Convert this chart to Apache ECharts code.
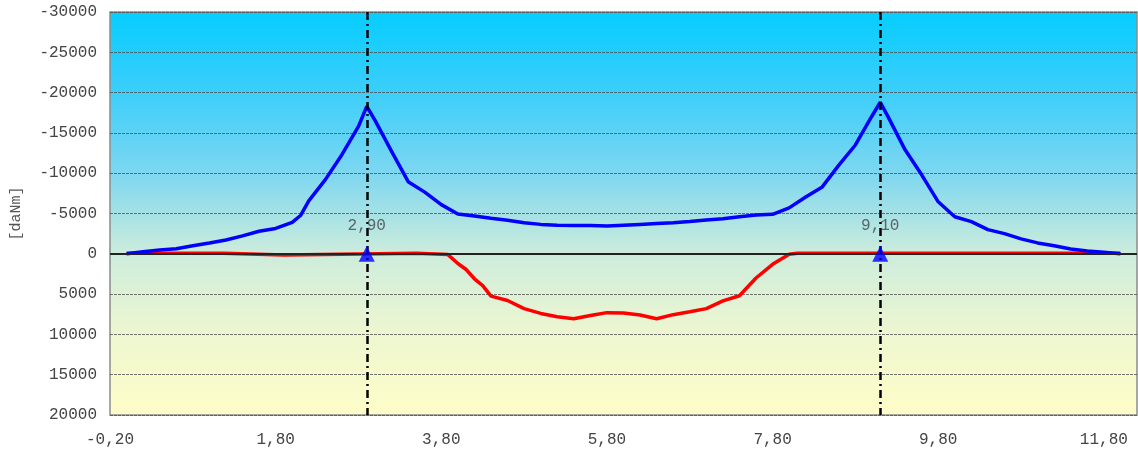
<!DOCTYPE html>
<html>
<head>
<meta charset="utf-8">
<script src="https://cdn.jsdelivr.net/npm/echarts@6/dist/echarts.min.js"></script>
<style>
  html, body { margin: 0; padding: 0; background: #ffffff; }
  #chart { width: 1138px; height: 452px; }
</style>
</head>
<body>
<div id="chart"></div>
<script>
// Hogging moment envelope (negative, drawn upwards) [daNm]
const hogX = [0, 0.2, 0.4, 0.6, 0.8, 1.0, 1.2, 1.4, 1.6, 1.8, 2.0, 2.1, 2.2, 2.4, 2.6, 2.8, 2.9,
  3.0, 3.2, 3.4, 3.6, 3.8, 4.0, 4.2, 4.4, 4.6, 4.8, 5.0, 5.2, 5.4, 5.6, 5.8, 6.0, 6.2, 6.4,
  6.6, 6.8, 7.0, 7.2, 7.4, 7.6, 7.8, 8.0, 8.2, 8.4, 8.6, 8.8, 9.0, 9.1, 9.2, 9.4, 9.6, 9.8,
  10.0, 10.2, 10.4, 10.6, 10.8, 11.0, 11.2, 11.4, 11.6, 11.8, 12.0];
const hogM = [0, -250, -480, -630, -1000, -1350, -1720, -2220, -2800, -3150, -3900, -4750, -6560,
  -9200, -12300, -15800, -18300, -16550, -12700, -8950, -7650, -6100, -4950, -4700, -4400,
  -4150, -3850, -3650, -3550, -3500, -3500, -3450, -3550, -3650, -3750, -3850, -4000, -4200,
  -4350, -4600, -4800, -4900, -5700, -7050, -8300, -11000, -13500, -17100, -18800, -16900,
  -12900, -9800, -6450, -4600, -4000, -3000, -2500, -1850, -1350, -1000, -600, -350, -200, 0];

// Sagging moment envelope (positive, drawn downwards) [daNm]
const sagX = [0, 1.17, 1.18, 1.90, 1.92, 3.50, 3.52, 3.88, 4.0, 4.1, 4.2, 4.3, 4.4, 4.6, 4.8,
  5.0, 5.2, 5.4, 5.6, 5.8, 6.0, 6.2, 6.4, 6.6, 6.8, 7.0, 7.2, 7.4, 7.6, 7.8, 8.0, 8.1, 12.0];
const sagM = [-80, -80, 150, 150, -80, -80, 100, 100, 1200, 1950, 3100, 3950, 5250, 5800, 6800,
  7400, 7800, 8050, 7650, 7300, 7350, 7600, 8050, 7550, 7200, 6800, 5850, 5200, 3000, 1300,
  50, -80, -80];

// Support positions [m]
const supports = [2.9, 9.1];

// Axis ranges and tick steps
const xRange = [-0.2, 12.2];
const xStep = 2;
const yRange = [-30000, 20000];
const yStep = 5000;

const fmtComma = v => v.toFixed(2).replace('.', ',');
const labelFont = { fontFamily: 'Liberation Mono', fontSize: 16, color: '#444444' };

const chart = echarts.init(document.getElementById('chart'));

chart.setOption({
  animation: false,
  grid: {
    left: 110, right: 1, top: 12, bottom: 37,
    show: true,
    borderColor: '#8c8c8c',
    borderWidth: 1.5,
    backgroundColor: new echarts.graphic.LinearGradient(0, 0, 0, 1, [
      { offset: 0.0, color: 'rgb(5,205,255)' },
      { offset: 0.2, color: 'rgb(60,206,250)' },
      { offset: 0.4, color: 'rgb(125,215,240)' },
      { offset: 0.6, color: 'rgb(205,236,220)' },
      { offset: 0.8, color: 'rgb(238,247,208)' },
      { offset: 1.0, color: 'rgb(255,253,200)' }
    ])
  },
  xAxis: {
    type: 'value',
    min: xRange[0], max: xRange[1], interval: xStep,
    axisLine: { show: false },
    axisTick: { show: false },
    splitLine: { show: false },
    axisLabel: Object.assign({
      margin: 17,
      showMaxLabel: false,
      formatter: v => fmtComma(v)
    }, labelFont)
  },
  yAxis: {
    type: 'value',
    inverse: true,
    min: yRange[0], max: yRange[1], interval: yStep,
    name: '[daNm]',
    nameLocation: 'middle',
    nameGap: 86,
    nameRotate: 90,
    nameTextStyle: { fontFamily: 'Liberation Mono', fontSize: 15, color: '#555555' },
    axisLine: { show: false },
    axisTick: { show: false },
    splitLine: { show: true, lineStyle: { color: '#4a4a4a', width: 1, type: [3, 1], opacity: 0.75 } },
    axisLabel: Object.assign({
      margin: 13,
      formatter: v => String(v)
    }, labelFont)
  },
  series: [
    {
      name: 'M+',
      type: 'line',
      data: sagX.map((x, i) => [x, sagM[i]]),
      showSymbol: false,
      lineStyle: { color: '#ff0000', width: 3.5 },
      z: 3,
      markLine: {
        silent: true,
        symbol: ['none', 'none'],
        label: { show: false },
        lineStyle: { color: '#222222', width: 2, type: 'solid' },
        data: [{ yAxis: 0 }]
      }
    },
    {
      name: 'M-',
      type: 'line',
      data: hogX.map((x, i) => [x, hogM[i]]),
      showSymbol: false,
      lineStyle: { color: '#0000ff', width: 3.5 },
      z: 4
    },
    {
      name: 'supports',
      type: 'scatter',
      data: supports.map(x => [x, 0]),
      symbol: 'triangle',
      symbolSize: [16, 16],
      itemStyle: { color: '#0000ff' },
      z: 6,
      label: Object.assign({
        show: true,
        position: 'top',
        distance: 12,
        formatter: p => fmtComma(p.value[0])
      }, labelFont),
      markLine: {
        silent: true,
        symbol: ['none', 'none'],
        label: { show: false },
        lineStyle: { color: '#000000', width: 2.5, type: [8, 4, 2, 4] },
        data: supports.map(x => ({ xAxis: x }))
      }
    }
  ]
});
</script>
</body>
</html>
